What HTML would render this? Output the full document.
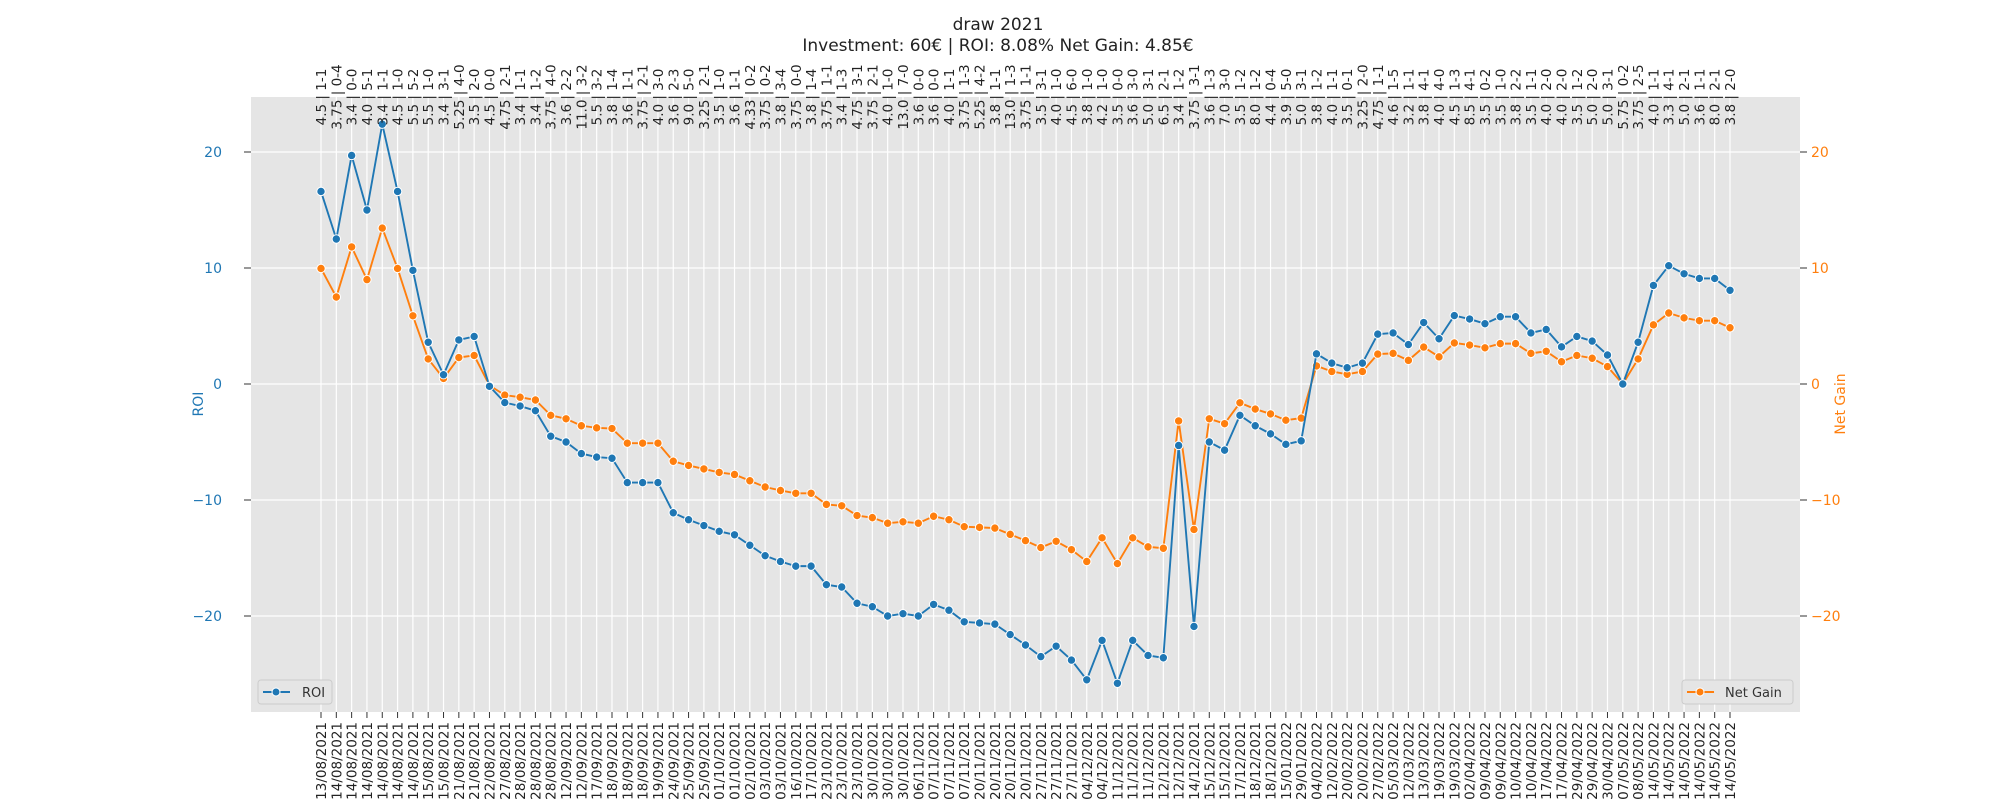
<!DOCTYPE html>
<html><head><meta charset="utf-8"><style>
html,body{margin:0;padding:0;background:#fff;}
svg{display:block;font-family:"DejaVu Sans","Liberation Sans",sans-serif;}
</style></head><body>
<svg id="chart" width="2000" height="800" viewBox="0 0 2000 800">
<text x="998" y="30" text-anchor="middle" font-size="17" fill="#222">draw 2021</text>
<text x="998" y="51" text-anchor="middle" font-size="17" fill="#222">Investment: 60€ | ROI: 8.08% Net Gain: 4.85€</text>
<rect x="251" y="97" width="1549" height="615" fill="#e5e5e5"/>
<g id="grid"></g><g id="series"></g><g id="axes"></g>
<text transform="translate(203,404) rotate(-90)" text-anchor="middle" font-size="14" fill="#1f77b4">ROI</text>
<text transform="translate(1845,404) rotate(-90)" text-anchor="middle" font-size="14" fill="#ff7f0e">Net Gain</text>
<g>
<rect x="258" y="680" width="74" height="24" rx="3" fill="#e5e5e5" stroke="#ccc"/>
<line x1="263" y1="692" x2="290" y2="692" stroke="#1f77b4" stroke-width="2"/>
<circle cx="276" cy="692" r="4" fill="#1f77b4" stroke="#fff" stroke-width="1"/>
<text x="302" y="697" font-size="13" fill="#333">ROI</text>
</g>
<g>
<rect x="1682" y="680" width="111" height="24" rx="3" fill="#e5e5e5" stroke="#ccc"/>
<line x1="1687" y1="692" x2="1714" y2="692" stroke="#ff7f0e" stroke-width="2"/>
<circle cx="1700" cy="692" r="4" fill="#ff7f0e" stroke="#fff" stroke-width="1"/>
<text x="1725" y="697" font-size="13" fill="#333">Net Gain</text>
</g>
</svg>
<script>
const topLabels=["4.5 | 1-1","3.75 | 0-4","3.4 | 0-0","4.0 | 5-1","3.4 | 1-1","4.5 | 1-0","5.5 | 5-2","5.5 | 1-0","3.4 | 3-1","5.25 | 4-0","3.5 | 2-0","4.5 | 0-0","4.75 | 2-1","3.4 | 1-1","3.4 | 1-2","3.75 | 4-0","3.6 | 2-2","11.0 | 3-2","5.5 | 3-2","3.8 | 1-4","3.6 | 1-1","3.75 | 2-1","4.0 | 3-0","3.6 | 2-3","9.0 | 5-0","3.25 | 2-1","3.5 | 1-0","3.6 | 1-1","4.33 | 0-2","3.75 | 0-2","3.8 | 3-4","3.75 | 0-0","3.8 | 1-4","3.75 | 1-1","3.4 | 1-3","4.75 | 3-1","3.75 | 2-1","4.0 | 1-0","13.0 | 7-0","3.6 | 0-0","3.6 | 0-0","4.0 | 1-1","3.75 | 1-3","5.25 | 4-2","3.8 | 1-1","13.0 | 1-3","3.75 | 1-1","3.5 | 3-1","4.0 | 1-0","4.5 | 6-0","3.8 | 1-0","4.2 | 1-0","3.5 | 0-0","3.6 | 3-0","5.0 | 3-1","6.5 | 2-1","3.4 | 1-2","3.75 | 3-1","3.6 | 1-3","7.0 | 3-0","3.5 | 1-2","8.0 | 1-2","4.4 | 0-4","3.9 | 5-0","5.0 | 3-1","3.8 | 1-2","4.0 | 1-1","3.5 | 0-1","3.25 | 2-0","4.75 | 1-1","4.6 | 1-5","3.2 | 1-1","3.8 | 4-1","4.0 | 4-0","4.5 | 1-3","8.5 | 4-1","3.5 | 0-2","3.5 | 1-0","3.8 | 2-2","3.5 | 1-1","4.0 | 2-0","4.0 | 2-0","3.5 | 1-2","5.0 | 2-0","5.0 | 3-1","5.75 | 0-2","3.75 | 2-5","4.0 | 1-1","3.3 | 4-1","5.0 | 2-1","3.6 | 1-1","8.0 | 2-1","3.8 | 2-0"];
const dates=["13/08/2021","14/08/2021","14/08/2021","14/08/2021","14/08/2021","14/08/2021","14/08/2021","15/08/2021","15/08/2021","21/08/2021","21/08/2021","22/08/2021","27/08/2021","28/08/2021","28/08/2021","28/08/2021","12/09/2021","12/09/2021","17/09/2021","18/09/2021","18/09/2021","18/09/2021","19/09/2021","24/09/2021","25/09/2021","25/09/2021","01/10/2021","01/10/2021","02/10/2021","03/10/2021","03/10/2021","16/10/2021","17/10/2021","23/10/2021","23/10/2021","23/10/2021","30/10/2021","30/10/2021","30/10/2021","06/11/2021","07/11/2021","07/11/2021","07/11/2021","20/11/2021","20/11/2021","20/11/2021","20/11/2021","27/11/2021","27/11/2021","27/11/2021","04/12/2021","04/12/2021","11/12/2021","11/12/2021","11/12/2021","12/12/2021","12/12/2021","14/12/2021","15/12/2021","15/12/2021","17/12/2021","18/12/2021","18/12/2021","15/01/2022","29/01/2022","04/02/2022","12/02/2022","20/02/2022","20/02/2022","27/02/2022","05/03/2022","12/03/2022","13/03/2022","19/03/2022","19/03/2022","02/04/2022","09/04/2022","09/04/2022","10/04/2022","10/04/2022","17/04/2022","17/04/2022","29/04/2022","29/04/2022","30/04/2022","07/05/2022","08/05/2022","14/05/2022","14/05/2022","14/05/2022","14/05/2022","14/05/2022","14/05/2022"];
const roi=[16.6,12.5,19.7,15.0,22.4,16.6,9.8,3.6,0.8,3.8,4.1,-0.2,-1.6,-1.9,-2.3,-4.5,-5.0,-6.0,-6.3,-6.4,-8.5,-8.5,-8.5,-11.1,-11.7,-12.2,-12.7,-13.0,-13.9,-14.8,-15.3,-15.7,-15.7,-17.3,-17.5,-18.9,-19.2,-20.0,-19.8,-20.0,-19.0,-19.5,-20.5,-20.6,-20.7,-21.6,-22.5,-23.5,-22.6,-23.8,-25.5,-22.1,-25.8,-22.1,-23.4,-23.6,-5.3,-20.9,-5.0,-5.7,-2.7,-3.6,-4.3,-5.2,-4.9,2.6,1.8,1.4,1.8,4.3,4.4,3.4,5.3,3.9,5.9,5.6,5.2,5.8,5.8,4.4,4.7,3.2,4.1,3.7,2.5,0.0,3.6,8.5,10.2,9.5,9.1,9.1,8.08];
const netGain=[9.96,7.5,11.82,9.0,13.44,9.96,5.88,2.16,0.48,2.28,2.46,-0.12,-0.96,-1.14,-1.38,-2.7,-3.0,-3.6,-3.78,-3.84,-5.1,-5.1,-5.1,-6.66,-7.02,-7.32,-7.62,-7.8,-8.34,-8.88,-9.18,-9.42,-9.42,-10.38,-10.5,-11.34,-11.52,-12.0,-11.88,-12.0,-11.4,-11.7,-12.3,-12.36,-12.42,-12.96,-13.5,-14.1,-13.56,-14.28,-15.3,-13.26,-15.48,-13.26,-14.04,-14.16,-3.18,-12.54,-3.0,-3.42,-1.62,-2.16,-2.58,-3.12,-2.94,1.56,1.08,0.84,1.08,2.58,2.64,2.04,3.18,2.34,3.54,3.36,3.12,3.48,3.48,2.64,2.82,1.92,2.46,2.22,1.5,0.0,2.16,5.1,6.12,5.7,5.46,5.46,4.85];
const leftTicks=[-20,-10,0,10,20];
const rightTicks=[-20,-10,0,10,20];

const NS="http://www.w3.org/2000/svg";
const X0=321,X1=1730,Y0=384,PPU=11.6;
function xs(i){return X0+(X1-X0)*i/(dates.length-1);}
function yL(v){return Y0-v*PPU;}
function yR(v){return Y0-v*PPU;}
function mk(tag,attrs,parent){const e=document.createElementNS(NS,tag);for(const k in attrs)e.setAttribute(k,attrs[k]);parent.appendChild(e);return e;}
const grid=document.getElementById('grid'),series=document.getElementById('series'),axes=document.getElementById('axes');
leftTicks.forEach(v=>{
  const l=mk('line',{x1:251,x2:1800,y1:yL(v),y2:yL(v),stroke:'#fff','stroke-width':1.2},grid);
  
  
  mk('line',{x1:244,x2:251,y1:yL(v),y2:yL(v),stroke:'#333','stroke-width':1},axes);
  const t=mk('text',{x:222,y:yL(v)+5,'text-anchor':'end','font-size':14,fill:'#1f77b4'},axes);
  t.textContent=(v<0?'\u2212'+(-v):v);
  
  
});
rightTicks.forEach(v=>{
  mk('line',{x1:1800,x2:1807,y1:yR(v),y2:yR(v),stroke:'#333','stroke-width':1},axes);
  const t=mk('text',{x:1811,y:yR(v)+5,'text-anchor':'start','font-size':14,fill:'#ff7f0e'},axes);
  t.textContent=(v<0?'\u2212'+(-v):v);
  
  
});
dates.forEach((d,i)=>{
  const x=xs(i);
  const g=mk('line',{x1:x,x2:x,y1:97,y2:712,stroke:'#fff','stroke-width':1.2},grid);
  
  
  mk('line',{x1:x,x2:x,y1:712,y2:718,stroke:'#333','stroke-width':1},axes);
  const t=mk('text',{transform:`translate(${x+5},722) rotate(-90)`,'text-anchor':'end','font-size':13.5,fill:'#222'},axes);
  t.textContent=d;
  
  
  const tt=mk('text',{transform:`translate(${x+5},97) rotate(-90)`,'text-anchor':'middle','font-size':13.5,fill:'#222'},axes);
  tt.textContent=topLabels[i];
  
  
});
function drawSeries(vals,yf,color,name){
  const pts=vals.map((v,i)=>xs(i)+','+yf(v)).join(' ');
  const pl=mk('polyline',{points:pts,fill:'none',stroke:color,'stroke-width':1.9},series);
  
  
  vals.forEach((v,i)=>{
    const c=mk('circle',{cx:xs(i),cy:yf(v),r:4.2,fill:color,stroke:'#fff','stroke-width':1},series);
    
    
  });
}
drawSeries(netGain,yR,'#ff7f0e','net-gain');
drawSeries(roi,yL,'#1f77b4','roi');
</script>
</body></html>
